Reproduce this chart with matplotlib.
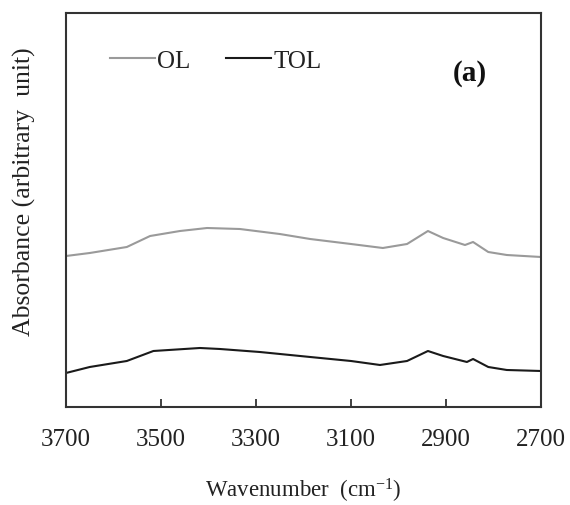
import matplotlib
matplotlib.use('Agg')
import matplotlib.pyplot as plt

# FTIR spectra (wavenumber in cm-1, absorbance in arbitrary units)
ol_wavenumber = [3700, 3650, 3572, 3523, 3460, 3403, 3334, 3250, 3186, 3100,
                 3033, 2982, 2938, 2906, 2860, 2843, 2811, 2772, 2700]
ol_absorbance = [1.51, 1.54, 1.60, 1.71, 1.76, 1.79, 1.78, 1.73, 1.68, 1.63,
                 1.59, 1.63, 1.76, 1.69, 1.62, 1.65, 1.55, 1.52, 1.50]

tol_wavenumber = [3700, 3650, 3572, 3516, 3418, 3376, 3292, 3186, 3100, 3039,
                  2982, 2938, 2906, 2856, 2843, 2811, 2772, 2700]
tol_absorbance = [0.34, 0.40, 0.46, 0.56, 0.59, 0.58, 0.55, 0.50, 0.46, 0.42,
                  0.46, 0.56, 0.51, 0.45, 0.48, 0.40, 0.37, 0.36]

xticks = [3700, 3500, 3300, 3100, 2900, 2700]

plt.rcParams['font.family'] = ['Liberation Serif', 'DejaVu Serif']
plt.rcParams['mathtext.fontset'] = 'custom'
plt.rcParams['mathtext.rm'] = 'Liberation Serif'
plt.rcParams['mathtext.it'] = 'Liberation Serif:italic'
text_color = '#222222'

fig = plt.figure(figsize=(5.7, 5.06), dpi=100)
ax = fig.add_axes([0.1158, 0.1937, 0.8333, 0.7786])

ax.plot(ol_wavenumber, ol_absorbance, color='#9a9a9a', lw=1.5, label='OL')
ax.plot(tol_wavenumber, tol_absorbance, color='#1a1a1a', lw=1.5, label='TOL')

ax.set_xlim(3700, 2700)
ax.set_ylim(0, 3.94)
ax.set_xticks(xticks)
ax.set_xticklabels([str(t) for t in xticks], fontsize=18, color=text_color)
ax.set_yticks([])
ax.tick_params(axis='x', direction='in', length=6, width=1.3, color='#333333', pad=15)

for side in ax.spines.values():
    side.set_linewidth(1.5)
    side.set_color('#333333')

ax.set_xlabel('Wavenumber  (cm$^{\\mathrm{-1}}$)', fontsize=16.5, color=text_color, labelpad=19)
ax.set_ylabel('Absorbance (arbitrary  unit)', fontsize=18.5, color=text_color)
ax.yaxis.set_label_coords(-0.064, 0.548)

leg = ax.legend(ncol=2, frameon=False, loc='center left', bbox_to_anchor=(0.0926, 0.880),
                borderpad=0, borderaxespad=0, handlelength=1.8, handletextpad=0.1,
                columnspacing=1.4, fontsize=18)
for t in leg.get_texts():
    t.set_color(text_color)

ax.text(0.886, 0.85, '(a)', transform=ax.transAxes, fontsize=21, fontweight='bold',
        ha='right', va='center', color='#111111')

fig.savefig('out.png', dpi=100)
